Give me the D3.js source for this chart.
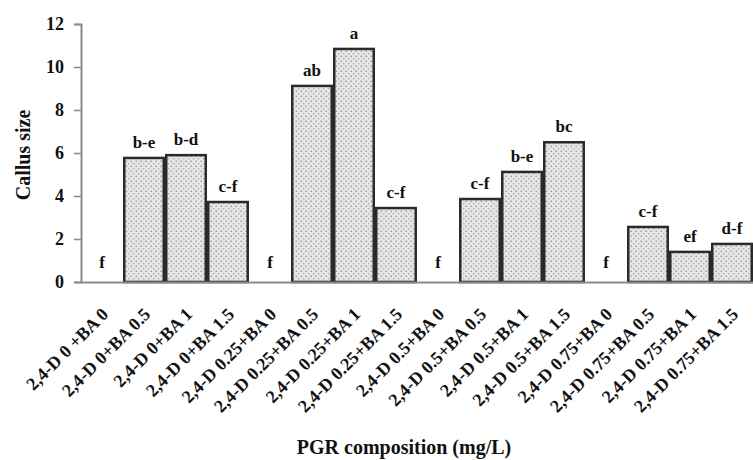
<!DOCTYPE html>
<html>
<head>
<meta charset="utf-8">
<script src="https://cdn.jsdelivr.net/npm/d3@7"></script>
<style>
  body { margin: 0; background: #fff; }
  svg text { font-family: "Liberation Serif", "Times New Roman", serif; font-weight: bold; fill: #111; }
</style>
</head>
<body>
<div id="chart"></div>
<script>
// Chart data
var categories = [
  "2,4-D 0 +BA 0", "2,4-D 0+BA 0.5", "2,4-D 0+BA 1", "2,4-D 0+BA 1.5",
  "2,4-D 0.25+BA 0", "2,4-D 0.25+BA 0.5", "2,4-D 0.25+BA 1", "2,4-D 0.25+BA 1.5",
  "2,4-D 0.5+BA 0", "2,4-D 0.5+BA 0.5", "2,4-D 0.5+BA 1", "2,4-D 0.5+BA 1.5",
  "2,4-D 0.75+BA 0", "2,4-D 0.75+BA 0.5", "2,4-D 0.75+BA 1", "2,4-D 0.75+BA 1.5"
];
var callusSize = [0, 5.77, 5.9, 3.72, 0, 9.12, 10.84, 3.44, 0, 3.86, 5.12, 6.5, 0, 2.56, 1.4, 1.77];
var letters = ["f", "b-e", "b-d", "c-f", "f", "ab", "a", "c-f", "f", "c-f", "b-e", "bc", "f", "c-f", "ef", "d-f"];
var yTicks = [0, 2, 4, 6, 8, 10, 12];

var width = 753, height = 460;
var margin = {top: 24, right: 0, bottom: 178, left: 81};

var svg = d3.select("#chart").append("svg")
    .attr("width", width)
    .attr("height", height);

// stipple fill for the bars
var pat = svg.append("defs").append("pattern")
    .attr("id", "dots")
    .attr("patternUnits", "userSpaceOnUse")
    .attr("width", 5)
    .attr("height", 5);
pat.append("rect").attr("width", 5).attr("height", 5).attr("fill", "#e6e6e6");
pat.append("circle").attr("cx", 1.2).attr("cy", 1.2).attr("r", 0.8).attr("fill", "#8e8e8e");
pat.append("circle").attr("cx", 3.7).attr("cy", 3.7).attr("r", 0.8).attr("fill", "#a8a8a8");

var x = d3.scaleBand()
    .domain(categories)
    .range([margin.left, width - margin.right])
    .paddingInner(0.06)
    .paddingOuter(0.03);

var y = d3.scaleLinear()
    .domain([0, 12])
    .range([height - margin.bottom, margin.top]);

// bars
svg.append("g").selectAll("rect")
    .data(callusSize)
  .enter().append("rect")
    .attr("x", function(d, i){ return x(categories[i]); })
    .attr("y", function(d){ return y(d); })
    .attr("width", x.bandwidth())
    .attr("height", function(d){ return y(0) - y(d); })
    .attr("fill", "url(#dots)")
    .attr("stroke", "#2a2a2a")
    .attr("stroke-width", 2.5)
    .style("display", function(d){ return d > 0 ? null : "none"; });

// significance letters
svg.append("g").selectAll("text")
    .data(callusSize)
  .enter().append("text")
    .attr("x", function(d, i){ return x(categories[i]) + x.bandwidth() / 2; })
    .attr("y", function(d){ return y(d) - (d > 0 ? 10 : 14); })
    .attr("text-anchor", "middle")
    .style("font-size", "17px")
    .text(function(d, i){ return letters[i]; });

// y axis
var yAxis = svg.append("g")
    .attr("transform", "translate(" + margin.left + ",0)")
    .call(d3.axisLeft(y).tickValues(yTicks).tickSize(7).tickPadding(10));
yAxis.select(".domain").attr("stroke", "#8a8a8a").attr("stroke-width", 2);
yAxis.selectAll(".tick line").attr("stroke", "#8a8a8a").attr("stroke-width", 1.5);
yAxis.selectAll(".tick text")
    .style("font-size", "18px")
    .attr("fill", "#111");

// x axis
var xAxis = svg.append("g")
    .attr("transform", "translate(0," + y(0) + ")")
    .call(d3.axisBottom(x).tickSize(0).tickPadding(0).tickSizeOuter(0));
xAxis.select(".domain").attr("stroke", "#8a8a8a").attr("stroke-width", 2);
xAxis.selectAll(".tick text")
    .attr("text-anchor", "end")
    .attr("transform", "translate(3,29) rotate(-45)")
    .attr("dy", "0.35em")
    .attr("y", 0)
    .style("font-size", "18px")
    .attr("fill", "#111");

// axis titles
svg.append("text")
    .attr("x", 404)
    .attr("y", 454)
    .attr("text-anchor", "middle")
    .style("font-size", "20px")
    .text("PGR composition (mg/L)");

svg.append("text")
    .attr("transform", "translate(30," + 155 + ") rotate(-90)")
    .attr("text-anchor", "middle")
    .style("font-size", "20px")
    .text("Callus size");
</script>
</body>
</html>
